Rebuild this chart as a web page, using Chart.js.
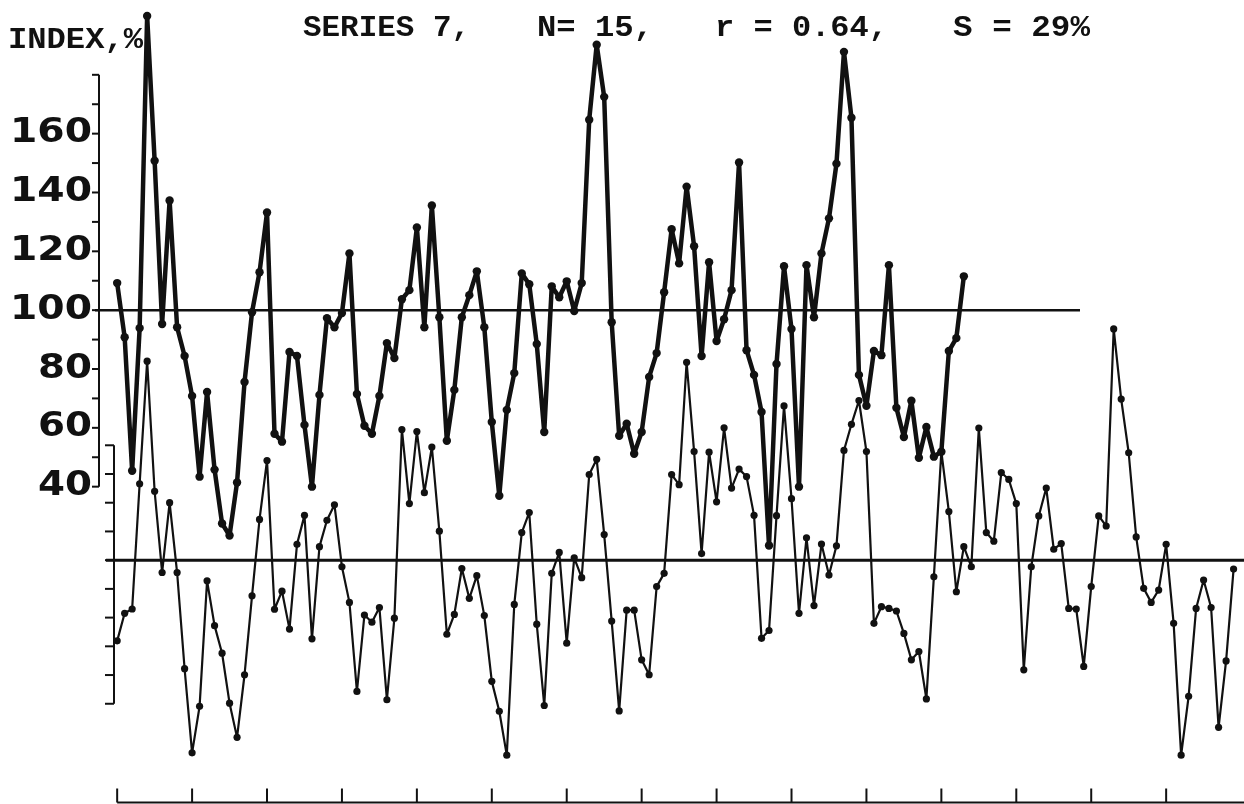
<!DOCTYPE html>
<html>
<head>
<meta charset="utf-8">
<script src="https://cdn.jsdelivr.net/npm/chart.js@4.4.1/dist/chart.umd.min.js"></script>
<style>
    html, body { margin: 0; padding: 0; background: #fff; }
    #wrap { width: 1244px; height: 804px; }
</style>
</head>
<body>
<div id="wrap"><canvas id="grafico" width="1244" height="804"></canvas></div>
<script>
// Série superior (INDEX, %), um valor por passo
const indiceSuperior = [
    109.2, 90.8, 45.4, 93.9, 200.0, 150.8, 95.3, 137.3, 94.2, 84.4,
    70.8, 43.4, 72.2, 45.8, 27.5, 23.4, 41.4, 75.6, 99.3, 112.9,
    133.2, 58.0, 55.3, 85.8, 84.4, 61.0, 40.0, 71.2, 97.3, 94.2,
    99.0, 119.3, 71.5, 60.7, 58.0, 70.8, 88.8, 83.7, 103.7, 106.8,
    128.1, 94.2, 135.6, 97.6, 55.6, 72.9, 97.6, 105.1, 113.2, 94.2,
    62.0, 36.9, 66.1, 78.6, 112.5, 108.8, 88.5, 58.6, 108.1, 104.4,
    109.8, 99.7, 109.2, 164.7, 190.2, 172.5, 95.9, 57.3, 61.4, 51.2,
    58.6, 77.3, 85.4, 106.1, 127.5, 115.9, 142.0, 121.7, 84.4, 116.3,
    89.5, 96.9, 106.8, 150.2, 86.4, 78.0, 65.4, 20.0, 81.7, 114.9,
    93.6, 40.0, 115.3, 97.6, 119.3, 131.2, 149.8, 187.8, 165.4, 78.0,
    67.5, 86.1, 84.7, 115.3, 66.8, 56.9, 69.2, 49.8, 60.3, 50.2,
    51.9, 86.1, 90.5, 111.5
];

// Série inferior, desvios em torno da linha zero
const indiceInferior = [
    -28.1, -18.5, -17.0, 26.6, 69.3, 24.0, -4.3, 20.0, -4.3, -37.8,
    -67.1, -50.9, -7.2, -22.8, -32.4, -49.8, -61.7, -39.9, -12.4, 14.2,
    34.7, -17.1, -10.8, -24.0, 5.5, 15.6, -27.4, 4.7, 13.9, 19.3,
    -2.3, -14.7, -45.7, -19.1, -21.6, -16.5, -48.6, -20.2, 45.5, 19.7,
    44.8, 23.5, 39.4, 10.1, -25.8, -18.9, -2.9, -13.3, -5.4, -19.3,
    -42.2, -52.6, -67.9, -15.4, 9.6, 16.6, -22.3, -50.6, -4.6, 2.7,
    -28.9, 0.8, -6.1, 29.8, 35.1, 8.9, -21.2, -52.5, -17.4, -17.4,
    -34.7, -39.9, -9.2, -4.6, 29.8, 26.3, 68.9, 37.8, 2.3, 37.6,
    20.3, 46.1, 25.1, 31.7, 29.1, 15.6, -27.2, -24.5, 15.5, 53.7,
    21.4, -18.5, 7.8, -15.8, 5.6, -5.2, 5.0, 38.2, 47.3, 55.6,
    37.8, -22.0, -16.2, -16.8, -17.7, -25.5, -34.7, -31.8, -48.3, -5.8,
    37.8, 16.9, -11.0, 4.7, -2.3, 46.0, 9.6, 6.6, 30.5, 28.1,
    19.7, -38.2, -2.3, 15.4, 25.1, 3.8, 5.8, -16.8, -17.0, -37.0,
    -9.2, 15.4, 11.9, 80.5, 56.1, 37.4, 8.1, -9.8, -14.7, -10.4,
    5.5, -22.0, -67.9, -47.4, -16.8, -6.9, -16.5, -58.2, -35.1, -3.1
];

// Eixos e textos
const rotulosY = [160, 140, 120, 100, 80, 60, 40];
const marcasY = [180, 170, 160, 150, 140, 130, 120, 110, 100, 90, 80, 70, 60, 50, 40];
const marcasInferior = [40, 30, 20, 10, 0, -10, -20, -30, -40, -50];
const marcasX = [0, 10, 20, 30, 40, 50, 60, 70, 80, 90, 100, 110, 120, 130, 140];
const referenciaSuperior = 100;
const referenciaInferior = 0;
const tituloEixo = 'INDEX,%';
const titulo = ['SERIES 7,', 'N= 15,', 'r = 0.64,', 'S = 29%'];

const TINTA = '#111';

// Desenha um texto esticado na horizontal até a largura pedida
function textoLargura(ctx, texto, x, y, largura) {
    const w = ctx.measureText(texto).width;
    ctx.save();
    ctx.translate(x, y);
    ctx.scale(largura / w, 1);
    ctx.fillText(texto, 0, 0);
    ctx.restore();
}

function linha(ctx, x1, y1, x2, y2) {
    ctx.beginPath();
    ctx.moveTo(x1, y1);
    ctx.lineTo(x2, y2);
    ctx.stroke();
}

const eixos = {
    id: 'eixos',
    beforeDatasetsDraw(chart) {
        const { ctx, scales: { x, y, y2 } } = chart;
        ctx.save();
        ctx.strokeStyle = TINTA;
        ctx.lineCap = 'butt';

        // Linhas de referência
        ctx.lineWidth = 2.5;
        const y100 = y.getPixelForValue(referenciaSuperior);
        linha(ctx, 95, y100, 1080, y100);
        ctx.lineWidth = 3;
        const y0 = y2.getPixelForValue(referenciaInferior);
        linha(ctx, 106, y0, 1244, y0);

        // Eixo vertical superior com marcas
        ctx.lineWidth = 2;
        const xSup = 99;
        const topo = y.getPixelForValue(marcasY[0]);
        const base = y.getPixelForValue(marcasY[marcasY.length - 1]);
        linha(ctx, xSup, topo, xSup, base);
        marcasY.forEach(v => {
            const py = y.getPixelForValue(v);
            linha(ctx, xSup - 7, py, xSup, py);
        });

        // Eixo vertical inferior
        const xInf = 114;
        const topoInf = y2.getPixelForValue(marcasInferior[0]);
        const baseInf = y2.getPixelForValue(marcasInferior[marcasInferior.length - 1]);
        linha(ctx, xInf, topoInf, xInf, baseInf);
        marcasInferior.forEach(v => {
            const py = y2.getPixelForValue(v);
            linha(ctx, xInf - 9, py, xInf, py);
        });

        // Eixo horizontal na base, marcas para cima
        const yBase = 802.5;
        linha(ctx, x.getPixelForValue(marcasX[0]), yBase, 1244, yBase);
        marcasX.forEach(v => {
            const px = x.getPixelForValue(v);
            linha(ctx, px, yBase, px, yBase - 14);
        });
        ctx.restore();
    },
    afterDraw(chart) {
        const { ctx, scales: { y } } = chart;
        ctx.save();
        ctx.fillStyle = TINTA;

        // Rótulos do eixo superior
        ctx.font = 'bold 33px "DejaVu Sans"';
        ctx.textBaseline = 'middle';
        rotulosY.forEach(v => {
            const texto = String(v);
            const largura = 28 * texto.length - 2;
            textoLargura(ctx, texto, 92 - largura, y.getPixelForValue(v), largura);
        });

        // Título e nome do eixo
        ctx.font = 'bold 30px "Liberation Mono"';
        ctx.textBaseline = 'alphabetic';
        textoLargura(ctx, tituloEixo, 8, 48, 135);
        const posicoes = [[303, 167], [537, 116], [715, 173], [953, 137]];
        titulo.forEach((t, i) => {
            textoLargura(ctx, t, posicoes[i][0], 36, posicoes[i][1]);
        });
        ctx.restore();
    }
};

const ctx = document.getElementById('grafico').getContext('2d');

new Chart(ctx, {
    type: 'line',
    data: {
        datasets: [
            {
                label: 'superior',
                data: indiceSuperior.map((v, i) => ({ x: i, y: v })),
                yAxisID: 'y',
                borderColor: TINTA,
                borderWidth: 4.5,
                borderJoinStyle: 'round',
                pointRadius: 4.2,
                pointBackgroundColor: TINTA,
                pointBorderWidth: 0,
                tension: 0,
                clip: false
            },
            {
                label: 'inferior',
                data: indiceInferior.map((v, i) => ({ x: i, y: v })),
                yAxisID: 'y2',
                borderColor: TINTA,
                borderWidth: 2.2,
                borderJoinStyle: 'round',
                pointRadius: 3.6,
                pointBackgroundColor: TINTA,
                pointBorderWidth: 0,
                tension: 0,
                clip: false
            }
        ]
    },
    options: {
        responsive: false,
        animation: false,
        devicePixelRatio: 1,
        layout: { padding: { left: 80, right: 0, top: 10, bottom: 2 } },
        plugins: {
            legend: { display: false },
            tooltip: { enabled: false },
            title: { display: false }
        },
        scales: {
            x: { type: 'linear', min: -4.96, max: 149.83, display: false },
            y: { min: -66.44, max: 202.03, display: false },
            y2: { min: -83.44, max: 191.56, display: false }
        }
    },
    plugins: [eixos]
});
</script>
</body>
</html>
